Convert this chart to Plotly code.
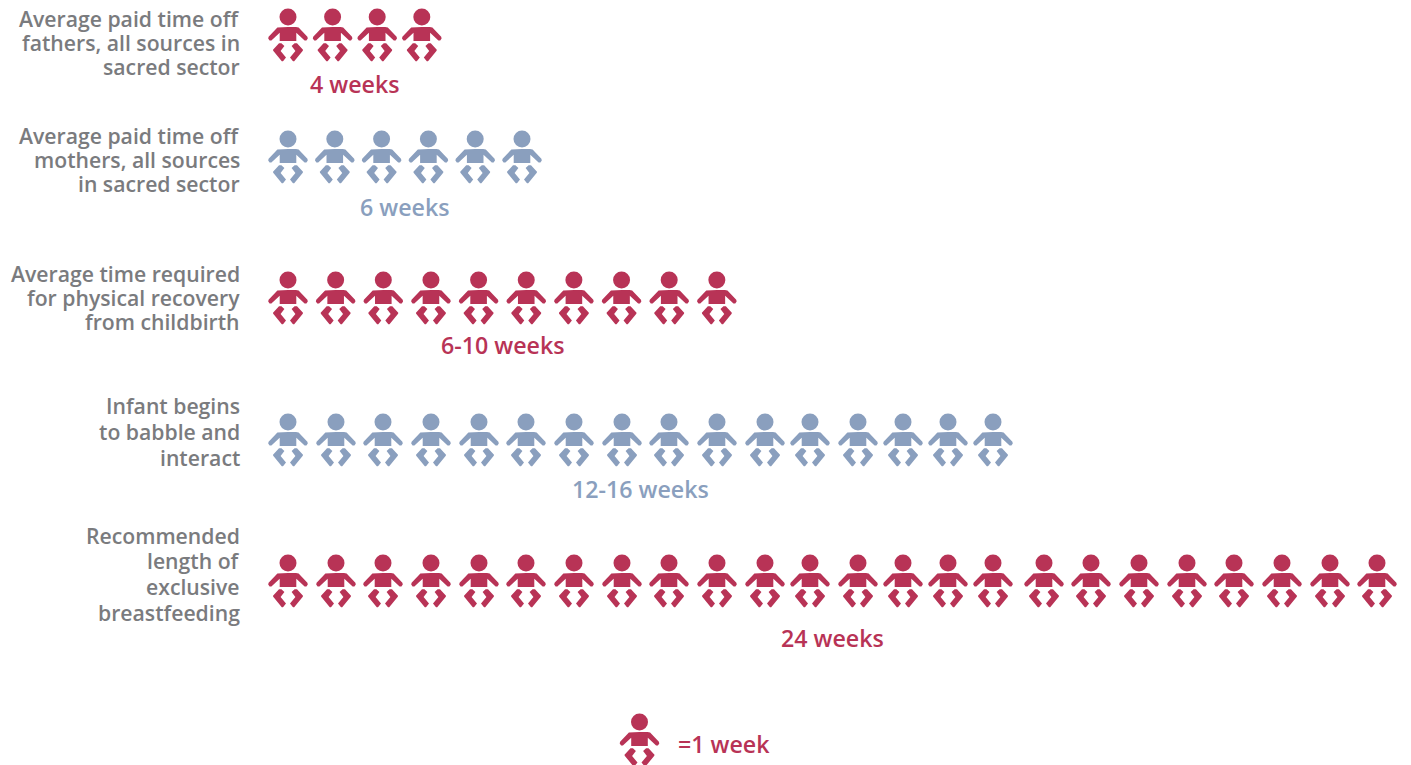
import plotly.graph_objects as go

# ---- data ----
categories = [
    ["Average paid time off", "fathers, all sources in", "sacred sector"],
    ["Average paid time off", "mothers, all sources", "in sacred sector"],
    ["Average time required", "for physical recovery", "from childbirth"],
    ["Infant begins", "to babble and", "interact"],
    ["Recommended", "length of", "exclusive", "breastfeeding"],
]
icon_counts = [4, 6, 10, 16, 24]
value_labels = ["4 weeks", "6 weeks", "6-10 weeks", "12-16 weeks", "24 weeks"]
legend_label = "=1 week"

# ---- layout / style ----
RED, BLUE, GREY = "#b83356", "#8a9fbe", "#7a7b7e"
colors = [RED, BLUE, RED, BLUE, RED]
FONT = "Open Sans"
W, H = 1411, 765
row_y = [17, 139, 280, 422, 563]
row_x = [
    [288 + 44.6 * i for i in range(4)],
    [288 + 46.8 * i for i in range(6)],
    [288 + 47.65 * i for i in range(10)],
]
long_x = [288, 336, 383, 431, 479, 526, 574, 622, 669, 717, 765, 810, 858, 903, 948, 993,
          1044, 1091, 1139, 1187, 1234, 1282, 1330, 1377]
row_x += [long_x[:16], long_x]
label_y = [[18, 42, 66], [135, 159, 183], [273, 297, 321], [405, 431, 457], [535, 560, 586, 612]]
value_pos = [(354.5, 84), (404.5, 207), (502.5, 345), (640, 489), (832.5, 638)]
legend_xy = (639.5, 722)

half_body = [(0, 10), (-8, 10), (-10.6, 10.4), (-19.4, 19.8), (-19.8, 21.6), (-18.4, 23.4), (-16.6, 23.4),
             (-8.3, 15.8), (-8.3, 24), (0, 24)]
body = half_body + [(-x, y) for x, y in reversed(half_body[1:-1])]
leg_l = [(-9, 26.2), (-15, 32.8), (-14.8, 33.8), (-6.2, 44.2), (-5, 44.2), (-2, 41.2), (-2, 40.4),
         (-7.4, 34), (-3.6, 30), (-3.6, 29), (-6.6, 26.2)]
leg_r = [(-x, y) for x, y in leg_l]
shapes_rel = [body, leg_l, leg_r]


def add_icons(fig, xs, y, color):
    px, py = [], []
    for cx in xs:
        for poly in shapes_rel:
            px += [cx + a for a, _ in poly] + [cx + poly[0][0], None]
            py += [y + b for _, b in poly] + [y + poly[0][1], None]
    fig.add_trace(go.Scatter(x=px, y=py, mode="lines", fill="toself", fillcolor=color,
                             line=dict(width=0, color=color), hoverinfo="skip", showlegend=False))
    fig.add_trace(go.Scatter(x=list(xs), y=[y] * len(xs), mode="markers",
                             marker=dict(size=17, color=color, line=dict(width=0)),
                             hoverinfo="skip", showlegend=False))


fig = go.Figure()
annotations = []


def txt(x, y, s, color, anchor, size):
    annotations.append(dict(x=x, y=y, text=s, showarrow=False, xanchor=anchor, yanchor="middle",
                            xref="x", yref="y",
                            font=dict(family=FONT, size=size, color=color, weight=600)))


for i, n in enumerate(icon_counts):
    add_icons(fig, row_x[i][:n], row_y[i], colors[i])
    for line, ly in zip(categories[i], label_y[i]):
        txt(242, ly, line, GREY, "right", 21.2)
    txt(value_pos[i][0], value_pos[i][1], value_labels[i], colors[i], "center", 23.2)

add_icons(fig, [legend_xy[0]], legend_xy[1], RED)
txt(676, 744, legend_label, RED, "left", 23.2)

fig.update_layout(
    width=W, height=H, margin=dict(l=0, r=0, t=0, b=0),
    paper_bgcolor="white", plot_bgcolor="white", showlegend=False,
    xaxis=dict(range=[0, W], visible=False, fixedrange=True),
    yaxis=dict(range=[H, 0], visible=False, fixedrange=True),
    annotations=annotations,
)
fig.write_html("out.html", config={"displayModeBar": False},
               post_script="document.body.style.margin='0';document.body.style.overflow='hidden';")
